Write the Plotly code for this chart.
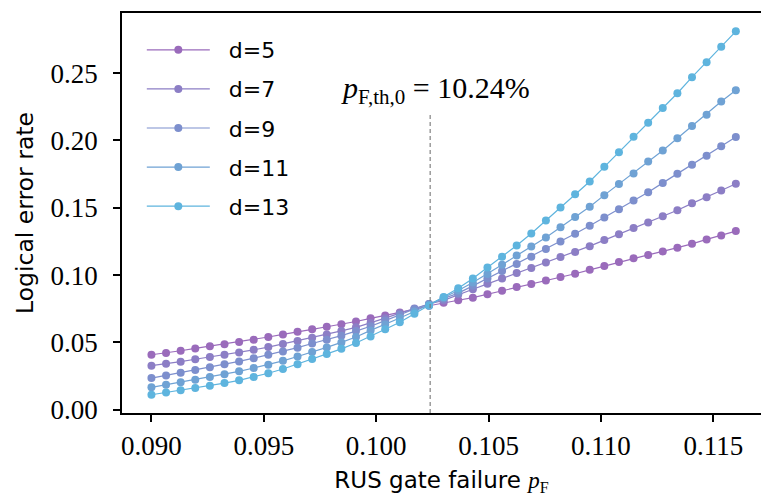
import numpy as np
import plotly.graph_objects as go

# RUS gate failure probability sweep
p_fail = np.linspace(0.090, 0.116, 41)

# Logical error rate per code distance
ler_d5 = [0.0408, 0.0421, 0.0438, 0.0455, 0.0471, 0.0487, 0.0503, 0.0520, 0.0540, 0.0559,
          0.0580, 0.0597, 0.0616, 0.0635, 0.0655, 0.0679, 0.0700, 0.0722, 0.0745, 0.0772,
          0.0795, 0.0813, 0.0832, 0.0857, 0.0884, 0.0911, 0.0934, 0.0960, 0.0986, 0.1010,
          0.1039, 0.1068, 0.1097, 0.1126, 0.1150, 0.1176, 0.1203, 0.1232, 0.1265, 0.1295,
          0.1327]
ler_d7 = [0.0327, 0.0341, 0.0357, 0.0375, 0.0392, 0.0408, 0.0425, 0.0445, 0.0465, 0.0488,
          0.0511, 0.0535, 0.0558, 0.0585, 0.0612, 0.0645, 0.0680, 0.0717, 0.0752, 0.0785,
          0.0812, 0.0855, 0.0895, 0.0935, 0.0975, 0.1015, 0.1052, 0.1094, 0.1134, 0.1171,
          0.1215, 0.1260, 0.1304, 0.1349, 0.1390, 0.1438, 0.1482, 0.1533, 0.1579, 0.1628,
          0.1678]
ler_d9 = [0.0235, 0.0255, 0.0275, 0.0295, 0.0315, 0.0337, 0.0359, 0.0383, 0.0408, 0.0433,
          0.0461, 0.0492, 0.0520, 0.0550, 0.0584, 0.0620, 0.0662, 0.0705, 0.0748, 0.0785,
          0.0825, 0.0866, 0.0920, 0.0975, 0.1030, 0.1082, 0.1137, 0.1193, 0.1250, 0.1307,
          0.1366, 0.1428, 0.1490, 0.1554, 0.1616, 0.1685, 0.1752, 0.1819, 0.1886, 0.1958,
          0.2025]
ler_d11 = [0.0166, 0.0186, 0.0204, 0.0223, 0.0243, 0.0264, 0.0285, 0.0310, 0.0334, 0.0363,
           0.0395, 0.0428, 0.0463, 0.0500, 0.0540, 0.0589, 0.0633, 0.0681, 0.0730, 0.0780,
           0.0833, 0.0885, 0.0945, 0.1008, 0.1076, 0.1145, 0.1213, 0.1280, 0.1356, 0.1432,
           0.1508, 0.1594, 0.1676, 0.1754, 0.1843, 0.1925, 0.2017, 0.2108, 0.2192, 0.2290,
           0.2373]
ler_d13 = [0.0111, 0.0128, 0.0144, 0.0161, 0.0178, 0.0198, 0.0218, 0.0243, 0.0271, 0.0302,
           0.0338, 0.0376, 0.0414, 0.0452, 0.0495, 0.0544, 0.0598, 0.0650, 0.0713, 0.0772,
           0.0838, 0.0903, 0.0975, 0.1056, 0.1136, 0.1220, 0.1309, 0.1405, 0.1502, 0.1601,
           0.1695, 0.1804, 0.1913, 0.2027, 0.2131, 0.2242, 0.2351, 0.2470, 0.2581, 0.2697,
           0.2811]

distances = [5, 7, 9, 11, 13]
series = [ler_d5, ler_d7, ler_d9, ler_d11, ler_d13]
colors = ["#9a6bbb", "#8c7ec5", "#7d8fcd", "#6fa2d4", "#5eb4de"]

threshold = 0.1024
x_ticks = [0.090, 0.095, 0.100, 0.105, 0.110, 0.115]
y_ticks = [0.00, 0.05, 0.10, 0.15, 0.20, 0.25]

SERIF = "Liberation Serif"
SANS = "DejaVu Sans"
NBSP = "\u00a0"

fig = go.Figure()
for d, ys, c in zip(distances, series, colors):
    fig.add_trace(go.Scatter(
        x=p_fail, y=ys, mode="lines+markers", name=f"{NBSP * 2}d={d}",
        legendgroup=f"d{d}",
        line=dict(color=c, width=1.2),
        marker=dict(color=c, size=8, line=dict(width=0)),
    ))

# threshold marker
fig.add_shape(type="line", xref="x", yref="y",
              x0=threshold, x1=threshold, y0=-0.00245, y1=0.2205,
              line=dict(color="#777777", width=1.1, dash="4px,3px"))
fig.add_annotation(x=threshold, y=0.2376, xref="x", yref="y", xshift=5,
                   text=f"<i>p</i><sub>F,th,0</sub> = {threshold*100:.2f}%",
                   showarrow=False, xanchor="center", yanchor="middle",
                   font=dict(family=SERIF, size=30, color="black"))

axis_common = dict(
    showline=True, linecolor="black", linewidth=1.6,
    ticks="outside", ticklen=7, tickwidth=1.6, tickcolor="black",
    showgrid=False, zeroline=False,
    tickfont=dict(family=SERIF, size=27, color="black"),
)

fig.update_layout(
    width=761, height=497,
    margin=dict(l=122, r=0, t=13, b=84),
    plot_bgcolor="white", paper_bgcolor="white",
    xaxis=dict(range=[0.08869, 0.11712], tickvals=x_ticks,
               ticktext=[f"{v:.3f}" for v in x_ticks], mirror=True,
               ticklabelstandoff=1,
               title=dict(text="RUS gate failure <i><span style='font-family:Liberation Serif'>p</span></i>"
                               "<sub><span style='font-family:Liberation Serif'>F</span></sub>" + NBSP * 3,
                          font=dict(family=SANS, size=23, color="black"), standoff=12),
               **axis_common),
    yaxis=dict(range=[-0.00245, 0.2947], tickvals=y_ticks,
               ticktext=[f"{v:.2f}" for v in y_ticks],
               ticklabelstandoff=10,
               title=dict(text="Logical error rate",
                          font=dict(family=SANS, size=23.5, color="black"), standoff=10),
               **axis_common),
    legend=dict(x=0.031, y=0.96, xanchor="left", yanchor="top",
                bgcolor="rgba(0,0,0,0)", borderwidth=0,
                font=dict(family=SANS, size=22, color="black"),
                itemwidth=63, tracegroupgap=7.5),
    showlegend=True,
)

fig.write_html("out.html")
